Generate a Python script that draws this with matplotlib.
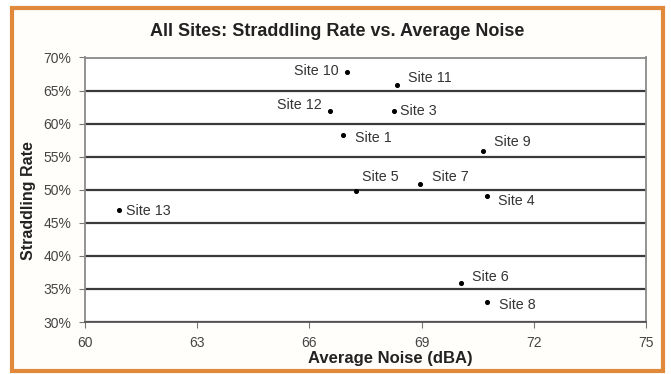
import matplotlib.pyplot as plt
from matplotlib.patches import Rectangle
from matplotlib.ticker import PercentFormatter

plt.rcParams['font.family'] = ['Liberation Sans', 'DejaVu Sans']

# average noise (dBA) and straddling rate (%) per site
sites = ['Site 1', 'Site 3', 'Site 4', 'Site 5', 'Site 6', 'Site 7', 'Site 8',
         'Site 9', 'Site 10', 'Site 11', 'Site 12', 'Site 13']
noise = [66.9, 68.25, 70.75, 67.25, 70.05, 68.95, 70.75, 70.65, 67.0, 68.35, 66.55, 60.9]
rate = [58.3, 61.9, 49.0, 49.8, 35.9, 50.9, 33.0, 55.9, 67.8, 65.9, 61.9, 46.9]

x_ticks = [60, 63, 66, 69, 72, 75]
y_ticks = [30, 35, 40, 45, 50, 55, 60, 65, 70]

# label placement (pixel offsets from the point, alignment)
label_pos = {
    'Site 1': (12, -3, 'left'), 'Site 3': (6, 0, 'left'), 'Site 4': (11, -5, 'left'),
    'Site 5': (6, 14, 'left'), 'Site 6': (11, 6, 'left'), 'Site 7': (12, 7, 'left'),
    'Site 8': (12, -3, 'left'), 'Site 9': (11, 9, 'left'), 'Site 10': (-8, 1, 'right'),
    'Site 11': (11, 7, 'left'), 'Site 12': (-8, 6, 'right'), 'Site 13': (7, -1, 'left'),
}

W, H = 671, 374
fig = plt.figure(figsize=(W / 100, H / 100), dpi=100)
fig.patch.set_facecolor('white')

# orange frame round the chart
fig.patches.append(Rectangle((12 / W, 3 / H), 651 / W, 363 / H, transform=fig.transFigure,
                             fill=True, facecolor='#fffefb', edgecolor='#e0893a', lw=3, zorder=-1))

ax = fig.add_axes([85 / W, (H - 322) / H, 561 / W, 264.5 / H])
ax.set_facecolor('white')

ax.scatter(noise, rate, s=7, color='black', zorder=3)
for name, xv, yv in zip(sites, noise, rate):
    dx, dy, ha = label_pos[name]
    ax.annotate(name, (xv, yv), xytext=(dx, dy), textcoords='offset pixels',
                ha=ha, va='center', fontsize=10.3, color='#333333')

ax.set_xlim(60, 75)
ax.set_ylim(30, 70)
ax.set_xticks(x_ticks)
ax.set_yticks(y_ticks)
ax.yaxis.set_major_formatter(PercentFormatter(decimals=0))
ax.grid(axis='y', color='#3a3a3a', lw=1.6)
ax.set_axisbelow(True)
for s in ax.spines.values():
    s.set_color('#8a8a8a')
    s.set_linewidth(1.3)
ax.spines['bottom'].set_color('#555555')
ax.tick_params(axis='both', direction='out', length=4, color='#777777',
               labelsize=10, labelcolor='#444444', pad=6)

ax.set_xlabel('Average Noise (dBA)', fontsize=12, fontweight='bold', color='#222222')
ax.set_ylabel('Straddling Rate', fontsize=11.5, fontweight='bold', color='#222222')
ax.xaxis.set_label_coords(0.544, -0.108)
ax.yaxis.set_label_coords(-0.088, 0.461)
fig.text(337 / W, 1 - 31 / H, 'All Sites: Straddling Rate vs. Average Noise',
         ha='center', va='center', fontsize=13, fontweight='bold', color='#222222')

fig.savefig('out.png', dpi=100)
